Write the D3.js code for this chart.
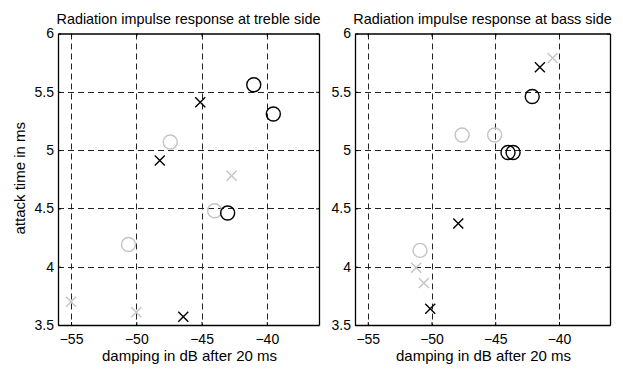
<!DOCTYPE html>
<html>
<head>
<meta charset="utf-8">
<script src="https://cdn.jsdelivr.net/npm/d3@7"></script>
<style>
  html, body { margin: 0; padding: 0; background: #fff; }
  svg { display: block; }
  text { font-family: "Liberation Sans", Arial, sans-serif; fill: #000; }
</style>
</head>
<body>
<svg id="chart" width="623" height="369"></svg>
<script>
// ---- data ----
const xTicks = [-55, -50, -45, -40];
const yTicks = [3.5, 4, 4.5, 5, 5.5, 6];
const xDomain = [-56, -36];
const yDomain = [3.5, 6];

const titles = ["Radiation impulse response at treble side", "Radiation impulse response at bass side"];
const xLabel = "damping in dB after 20 ms";
const yLabel = "attack time in ms";

// treble side
const trebleBlackCircleX = [-41.0, -39.5, -43.0];
const trebleBlackCircleY = [5.56, 5.31, 4.46];
const trebleGrayCircleX = [-47.4, -44.0, -50.6];
const trebleGrayCircleY = [5.07, 4.48, 4.19];
const trebleBlackCrossX = [-45.1, -48.2, -46.4];
const trebleBlackCrossY = [5.41, 4.91, 3.57];
const trebleGrayCrossX = [-42.7, -55.0, -50.0];
const trebleGrayCrossY = [4.78, 3.70, 3.61];

// bass side
const bassBlackCircleX = [-42.1, -44.0, -43.6];
const bassBlackCircleY = [5.46, 4.98, 4.98];
const bassGrayCircleX = [-47.6, -45.05, -50.9];
const bassGrayCircleY = [5.13, 5.13, 4.14];
const bassBlackCrossX = [-41.5, -47.9, -50.1];
const bassBlackCrossY = [5.71, 4.37, 3.64];
const bassGrayCrossX = [-40.5, -51.2, -50.6];
const bassGrayCrossY = [5.79, 3.99, 3.86];

const panels = [
  { left: 58, right: 319,
    sets: [
      { x: trebleGrayCircleX, y: trebleGrayCircleY, shape: "circle", color: "#c4c4c4" },
      { x: trebleGrayCrossX, y: trebleGrayCrossY, shape: "cross", color: "#c4c4c4" },
      { x: trebleBlackCircleX, y: trebleBlackCircleY, shape: "circle", color: "#000" },
      { x: trebleBlackCrossX, y: trebleBlackCrossY, shape: "cross", color: "#000" }
    ] },
  { left: 355, right: 610,
    sets: [
      { x: bassGrayCircleX, y: bassGrayCircleY, shape: "circle", color: "#c4c4c4" },
      { x: bassGrayCrossX, y: bassGrayCrossY, shape: "cross", color: "#c4c4c4" },
      { x: bassBlackCircleX, y: bassBlackCircleY, shape: "circle", color: "#000" },
      { x: bassBlackCrossX, y: bassBlackCrossY, shape: "cross", color: "#000" }
    ] }
];

const plotTop = 33.5, plotBottom = 325;
const svg = d3.select("#chart");
const fontFam = "'Liberation Sans', Arial, sans-serif";

panels.forEach((p, i) => {
  const x = d3.scaleLinear().domain(xDomain).range([p.left, p.right]);
  const y = d3.scaleLinear().domain(yDomain).range([plotBottom, plotTop]);
  const g = svg.append("g");

  // grid
  g.selectAll(".vg").data(xTicks).enter().append("line")
    .attr("x1", d => Math.round(x(d)) + 0.5).attr("x2", d => Math.round(x(d)) + 0.5)
    .attr("y1", plotTop).attr("y2", plotBottom)
    .attr("stroke", "#222").attr("stroke-width", 1).attr("stroke-dasharray", "6,4");
  g.selectAll(".hg").data(yTicks.filter(t => t > 3.5 && t < 6)).enter().append("line")
    .attr("y1", d => Math.round(y(d)) + 0.5).attr("y2", d => Math.round(y(d)) + 0.5)
    .attr("x1", p.left).attr("x2", p.right)
    .attr("stroke", "#222").attr("stroke-width", 1).attr("stroke-dasharray", "6,4");

  // axes (ticks inside)
  const fs = "14px";
  const xb = g.append("g").attr("transform", `translate(0,${plotBottom})`)
    .call(d3.axisBottom(x).tickValues(xTicks).tickSizeInner(-3).tickSizeOuter(0).tickPadding(9));
  const xt = g.append("g").attr("transform", `translate(0,${plotTop})`)
    .call(d3.axisTop(x).tickValues(xTicks).tickSizeInner(-3).tickSizeOuter(0).tickFormat(""));
  const yl = g.append("g").attr("transform", `translate(${p.left},0)`)
    .call(d3.axisLeft(y).tickValues(yTicks).tickSizeInner(-3).tickSizeOuter(0).tickPadding(4).tickFormat(d3.format("")));
  const yr = g.append("g").attr("transform", `translate(${p.right},0)`)
    .call(d3.axisRight(y).tickValues(yTicks).tickSizeInner(-3).tickSizeOuter(0).tickFormat(""));
  [xb, xt, yl, yr].forEach(a => {
    a.select(".domain").attr("stroke", "#000").attr("stroke-width", 1.3);
    a.selectAll(".tick line").attr("stroke", "#000");
    a.selectAll("text").style("font-size", fs).style("font-family", fontFam).attr("fill", "#000");
  });

  // markers
  p.sets.forEach(s => {
    const pts = s.x.map((v, k) => [v, s.y[k]]);
    if (s.shape === "circle") {
      g.selectAll(null).data(pts).enter().append("circle")
        .attr("cx", d => x(d[0])).attr("cy", d => y(d[1])).attr("r", 7)
        .attr("fill", "none").attr("stroke", s.color).attr("stroke-width", 1.4);
    } else {
      const h = 5;
      g.selectAll(null).data(pts).enter().append("path")
        .attr("d", d => { const cx = x(d[0]), cy = y(d[1]);
          return `M${cx-h},${cy-h}L${cx+h},${cy+h}M${cx-h},${cy+h}L${cx+h},${cy-h}`; })
        .attr("fill", "none").attr("stroke", s.color).attr("stroke-width", 1.4);
    }
  });

  // title
  g.append("text").attr("x", (p.left + p.right) / 2).attr("y", 24)
    .attr("text-anchor", "middle").style("font-size", "14.4px").text(titles[i]);
  // x label
  g.append("text").attr("x", (p.left + p.right) / 2 + 1).attr("y", 361)
    .attr("text-anchor", "middle").style("font-size", "15px").text(xLabel);
});

// y label (only left)
svg.append("text")
  .attr("transform", `translate(25,${(plotTop + plotBottom) / 2 - 1}) rotate(-90)`)
  .attr("text-anchor", "middle").style("font-size", "15px").text(yLabel);
</script>
</body>
</html>
